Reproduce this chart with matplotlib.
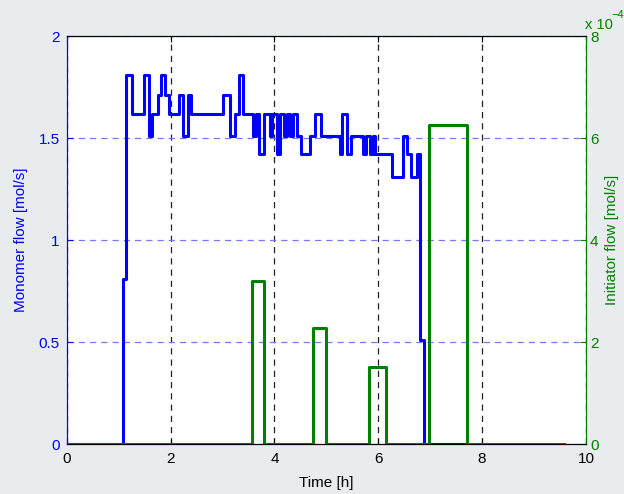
import numpy as np
import matplotlib.pyplot as plt
from matplotlib.ticker import FuncFormatter

plt.rcParams['font.family'] = ['Liberation Sans', 'DejaVu Sans']

# monomer flow, piecewise constant (time [h] where a level starts, flow [mol/s])
mono_t = [0, 1.09, 1.15, 1.25, 1.48, 1.59, 1.65, 1.76, 1.82, 1.89, 1.97,
          2.16, 2.24, 2.33, 2.39, 3.00, 3.15, 3.24, 3.31, 3.40, 3.59, 3.65,
          3.71, 3.79, 3.91, 3.96, 4.04, 4.11, 4.19, 4.25, 4.30, 4.36, 4.43,
          4.52, 4.69, 4.79, 4.89, 5.26, 5.31, 5.39, 5.47, 5.71, 5.77, 5.84,
          5.89, 5.93, 6.26, 6.48, 6.56, 6.64, 6.75, 6.81, 6.89, 7.71]
mono_q = [0, 0.81, 1.81, 1.62, 1.81, 1.51, 1.62, 1.71, 1.81, 1.71, 1.62,
          1.71, 1.51, 1.71, 1.62, 1.71, 1.51, 1.62, 1.81, 1.62, 1.51, 1.62,
          1.42, 1.62, 1.51, 1.62, 1.42, 1.62, 1.51, 1.62, 1.51, 1.62, 1.51,
          1.42, 1.51, 1.62, 1.51, 1.42, 1.62, 1.42, 1.51, 1.42, 1.51, 1.42,
          1.51, 1.42, 1.31, 1.51, 1.42, 1.31, 1.42, 0.51, 0, 0]

# initiator flow pulses [mol/s]
init_t = [0, 3.56, 3.80, 4.74, 4.99, 5.82, 6.15, 6.98, 7.71, 9.58]
init_q = [0, 3.2e-4, 0, 2.27e-4, 0, 1.51e-4, 0, 6.25e-4, 0, 0]

blue = '#0000ff'
green = '#008000'

fig = plt.figure(figsize=(6.24, 4.94), dpi=100, facecolor='#e8ecef')
ax = fig.add_axes([0.107, 0.101, 0.832, 0.826])
ax2 = ax.twinx()

ax.plot(mono_t, mono_q, drawstyle='steps-post', color=blue, lw=2.2, zorder=3)
ax2.plot(init_t, init_q, drawstyle='steps-post', color=green, lw=2.2)

ax.set_xlim(0, 10)
ax.set_ylim(0, 2)
ax2.set_ylim(0, 8e-4)
ax.set_xticks([0, 2, 4, 6, 8, 10])
ax.set_yticks([0, 0.5, 1, 1.5, 2])
ax2.set_yticks([0, 2e-4, 4e-4, 6e-4, 8e-4])
ax.yaxis.set_major_formatter(FuncFormatter(lambda v, p: '%g' % v))
ax2.yaxis.set_major_formatter(FuncFormatter(lambda v, p: '%g' % round(v / 1e-4, 6)))

# grid: black dashed verticals, light blue dashed horizontals
ax.xaxis.grid(True, color='#222222', linestyle=(0, (5, 4)), lw=0.9)
ax.yaxis.grid(True, color='#7878ff', linestyle=(0, (5, 4)), lw=0.9)
ax.set_axisbelow(True)

ax.tick_params(axis='x', direction='in', length=4, labelsize=11, colors='black',
               top=True, pad=6)
ax.tick_params(axis='y', direction='in', length=4, labelsize=11, colors=blue, pad=5)
ax2.tick_params(axis='y', direction='in', length=4, labelsize=11, colors=green, pad=3)

ax.spines['left'].set_color(blue)
ax2.spines['left'].set_color(blue)
ax.spines['right'].set_color(green)
ax2.spines['right'].set_color(green)
for a in (ax, ax2):
    for s in a.spines.values():
        s.set_linewidth(0.8)

ax.set_xlabel('Time [h]', fontsize=11, labelpad=7)
ax.set_ylabel('Monomer flow [mol/s]', fontsize=11, color=blue)
ax2.set_ylabel('Initiator flow [mol/s]', fontsize=11, color=green)
ax.yaxis.set_label_coords(-0.074, 0.5)
ax2.yaxis.set_label_coords(1.036, 0.5)

# exponent of the right axis, MATLAB style
fig.text(585 / 624, 1 - 29 / 494, 'x 10', color=green,
         fontsize=10.5, ha='left', va='baseline')
fig.text(611 / 624, 1 - 18 / 494, '\u22124', color=green,
         fontsize=8, ha='left', va='baseline')

fig.savefig('out.png', dpi=100, facecolor=fig.get_facecolor())
